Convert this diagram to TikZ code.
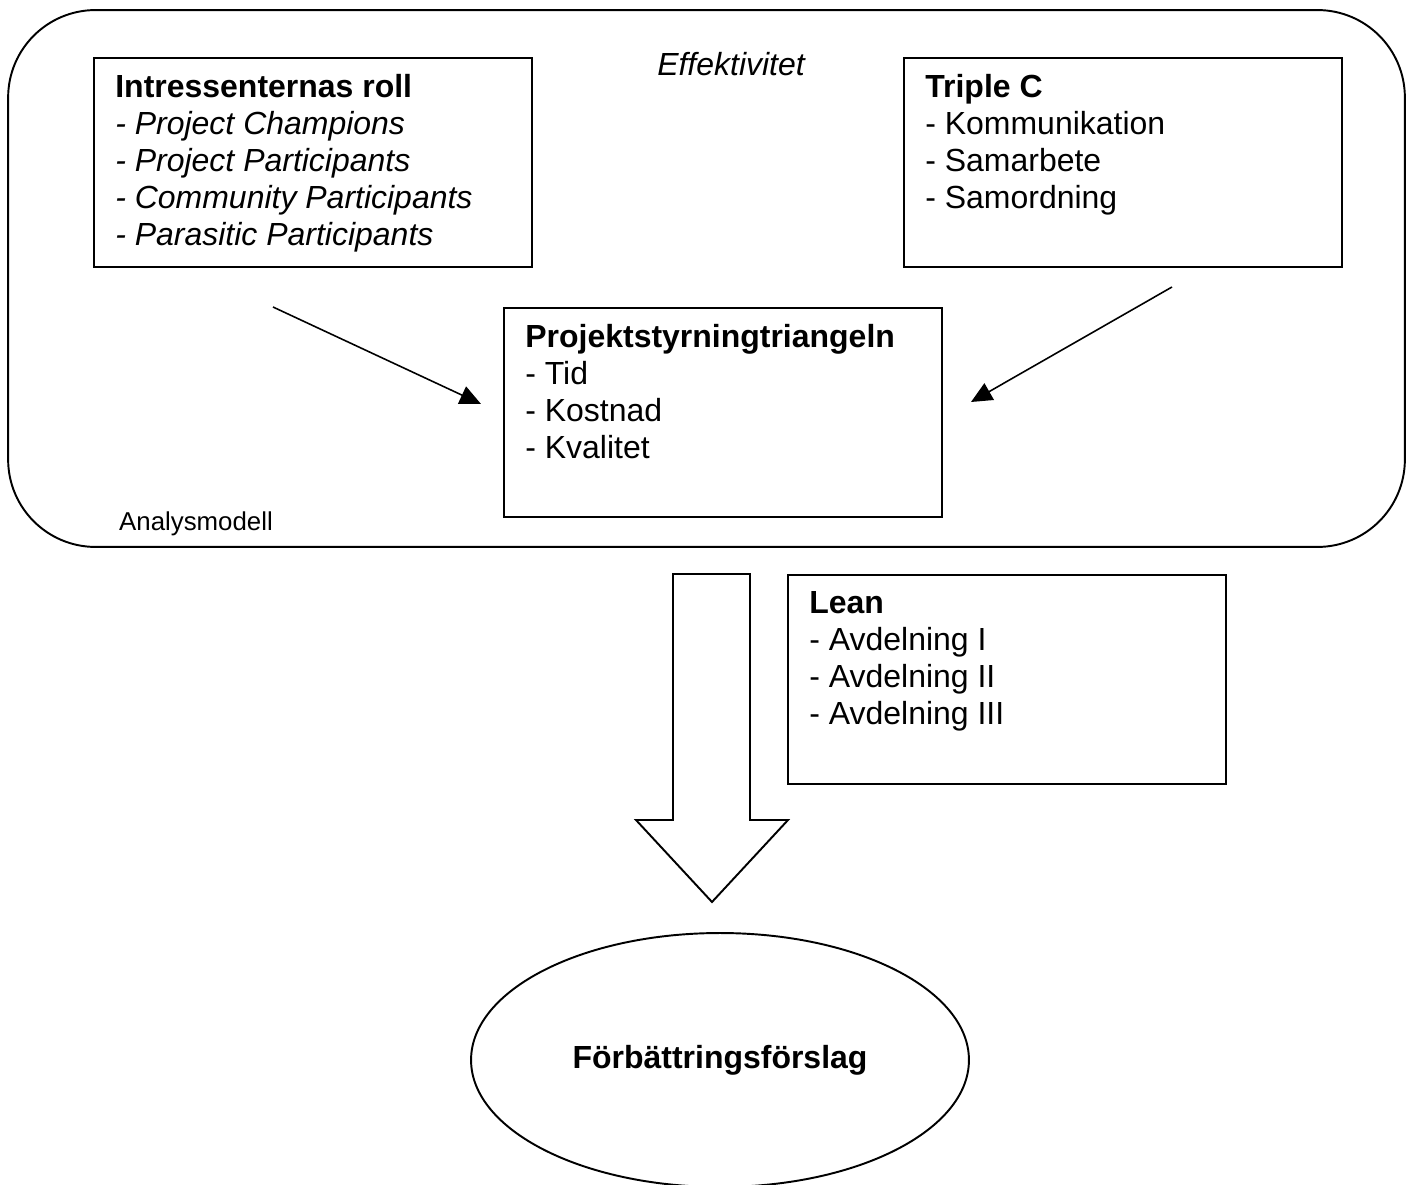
\documentclass[tikz,border=0pt]{standalone}
\usepackage{fontspec}
\setmainfont{Liberation Sans}
\usetikzlibrary{positioning,shapes.geometric,arrows.meta}

\tikzset{
  ramme/.style={draw, line width=1.1pt, rounded corners=1.75cm, minimum width=27.94cm, minimum height=10.74cm},
  ruta/.style={draw, line width=1.1pt, anchor=north west, minimum width=8.76cm, minimum height=4.18cm, inner sep=0pt},
  rutatext/.style={anchor=north west, align=left, inner sep=0pt},
  pil/.style={line width=0.9pt, -{Triangle[length=0.42cm,width=0.38cm]}},
}

\begin{document}
\begin{tikzpicture}[x=0.02cm,y=-0.02cm,font=\fontsize{18.2}{21}\selectfont]
    \useasboundingbox (0,0) rectangle (1413,1185);
    \node[ramme] (modell) at (706.5,278.5) {};
    \node[anchor=base] (effekt) at (731,76) {\itshape Effektivitet};
    \node[anchor=base west, font=\fontsize{14.7}{17}\selectfont] (modelltext) at (113,531) {Analysmodell};

    \node[ruta] (roll) at (93,57) {};
    \node[ruta] (triplec) at (903,57) {};
    \node[ruta] (triangel) at (503,307) {};
    \node[ruta] (lean) at (787,574) {};

    \node[rutatext, below right=0.34cm and 0.44cm of roll.north west] (rolltext)
        {\textbf{Intressenternas roll}\\ \textit{- Project Champions}\\ \textit{- Project Participants}\\
         \textit{- Community Participants}\\ \textit{- Parasitic Participants}};
    \node[rutatext, below right=0.34cm and 0.44cm of triplec.north west] (triplectext)
        {\textbf{Triple C}\\ - Kommunikation\\ - Samarbete\\ - Samordning};
    \node[rutatext, below right=0.34cm and 0.44cm of triangel.north west] (triangeltext)
        {\textbf{Projektstyrningtriangeln}\\ - Tid\\ - Kostnad\\ - Kvalitet};
    \node[rutatext, below right=0.34cm and 0.44cm of lean.north west] (leantext)
        {\textbf{Lean}\\ - Avdelning I\\ - Avdelning II\\ - Avdelning III};

    \coordinate (rollut) at (273,307);
    \coordinate (triangelv) at (481,404);
    \coordinate (triplecut) at (1172,287);
    \coordinate (triangelh) at (971,402);
    \draw[pil] (rollut) -- (triangelv);
    \draw[pil] (triplecut) -- (triangelh);

    \node[draw, ellipse, line width=1.1pt, minimum width=9.96cm, minimum height=5.08cm,
        font=\bfseries\fontsize{18.2}{21}\selectfont] (forslag) at (720,1060) {Förbättringsförslag};

    \draw[line width=1.1pt] (673,574) -- (750,574) -- (750,820) -- (788,820) -- (712,902)
        -- (636,820) -- (673,820) -- cycle;
\end{tikzpicture}
\end{document}
